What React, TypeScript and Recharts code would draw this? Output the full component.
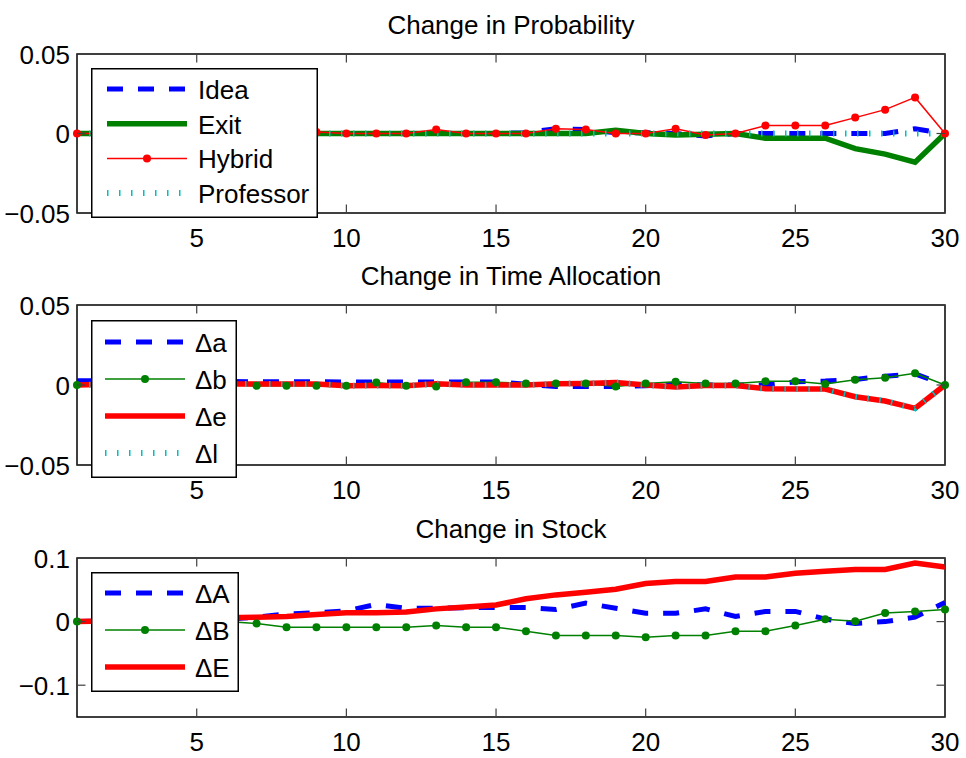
import { Legend, Line, LineChart, ReferenceArea, XAxis, YAxis } from 'recharts'

const steps = [1, 2, 3, 4, 5, 6, 7, 8, 9, 10, 11, 12, 13, 14, 15, 16, 17, 18, 19, 20, 21, 22, 23, 24, 25, 26, 27, 28, 29, 30]
const xTicks = [5, 10, 15, 20, 25, 30]

// Change in Probability
const idea = [0, 0, 0, 0, 0, 0, 0, 0, 0, 0, 0, 0, 0, 0, 0, 0.0005, 0.003, 0.0025, 0.0005, 0.0005, 0, -0.0015, 0, 0, 0, 0, 0, 0, 0.003, 0]
const exitP = [0, 0, 0, 0, 0, 0, 0, 0, 0, 0, 0, 0, 0, 0, 0, 0, 0, 0, 0.002, 0, -0.001, -0.0005, 0, -0.003, -0.003, -0.003, -0.0095, -0.013, -0.018, 0]
const hybrid = [0, 0, 0, 0, 0, 0, 0, 0, 0.001, 0, 0, 0, 0.0025, 0, 0, 0, 0.003, 0.0025, 0, 0, 0.003, -0.001, 0, 0.005, 0.005, 0.005, 0.01, 0.015, 0.0227, 0]
const professor = [0, 0, 0, 0, 0, 0, 0, 0, 0, 0, 0, 0, 0, 0, 0, 0, 0, 0, 0, 0, 0, 0, 0, 0, 0, 0, 0, 0, 0, 0]

// Change in Time Allocation
const da = [0.0027, 0.0025, 0.0025, 0.0025, 0.0025, 0.0022, 0.002, 0.002, 0.002, 0.0019, 0.0019, 0.0019, 0.0019, 0.0019, 0.0019, 0.0005, -0.001, -0.001, -0.001, -0.0005, 0.0005, 0, 0, 0, 0.002, 0.0025, 0.0035, 0.0055, 0.007, 0]
const db = [0, 0, 0, 0, 0, 0, -0.0005, -0.0005, -0.0005, -0.0005, 0.0015, -0.0005, -0.001, 0.0017, 0.0017, 0.001, 0.001, 0.001, -0.001, 0.001, 0.002, 0.001, 0.001, 0.0023, 0.0023, 0.0006, 0.0033, 0.0046, 0.0073, 0]
const de = [0, 0.0005, 0.0005, 0.0005, 0.0005, 0.0006, 0.0006, 0.0006, 0.0006, -0.0005, -0.0003, -0.0005, 0.0008, 0, 0, 0, 0.0008, 0.001, 0.0016, 0, -0.0012, -0.0003, -0.0003, -0.0023, -0.0025, -0.0025, -0.0073, -0.01, -0.0146, 0]
const dl = [0, 0.0005, 0.0005, 0.0005, 0.0005, 0.0006, 0.0006, 0.0006, 0.0006, -0.0005, -0.0003, -0.0005, 0.0008, 0, 0, 0, 0.0008, 0.001, 0.0016, 0, -0.0012, -0.0003, -0.0003, -0.0023, -0.0025, -0.0025, -0.0073, -0.01, -0.0146, 0]

// Change in Stock
const dA = [0, 0.001, 0.001, 0.002, 0.002, 0.004, 0.007, 0.012, 0.014, 0.017, 0.027, 0.021, 0.021, 0.022, 0.022, 0.022, 0.019, 0.029, 0.021, 0.013, 0.013, 0.02, 0.008, 0.016, 0.016, 0.004, -0.003, 0, 0.007, 0.03]
const dB = [0, 0, 0, 0, 0, 0, -0.003, -0.009, -0.009, -0.009, -0.009, -0.009, -0.006, -0.009, -0.009, -0.015, -0.022, -0.022, -0.022, -0.0245, -0.022, -0.022, -0.015, -0.015, -0.006, 0.0037, 0.0005, 0.0135, 0.016, 0.019]
const dE = [0, 0.001, 0.002, 0.003, 0.004, 0.006, 0.007, 0.008, 0.011, 0.014, 0.014, 0.015, 0.02, 0.023, 0.026, 0.036, 0.042, 0.046, 0.051, 0.06, 0.063, 0.063, 0.07, 0.07, 0.076, 0.079, 0.082, 0.082, 0.092, 0.086]

const smallTicks = [-0.05, 0, 0.05]
const smallTickLabels = ['\u22120.05', '0', '0.05']
const stockTicks = [-0.1, 0, 0.1]
const stockTickLabels = ['\u22120.1', '0', '0.1']

const rows = steps.map((step, i) => ({
  step, idea: idea[i], exitP: exitP[i], hybrid: hybrid[i], professor: professor[i],
  da: da[i], db: db[i], de: de[i], dl: dl[i], dA: dA[i], dB: dB[i], dE: dE[i],
}))

const BLUE = '#0000ff'
const GREEN = '#008000'
const RED = '#ff0000'
const CYAN = '#00bfbf'
const TICK = '#404040'
const FONT = 26
const PLOT_W = 868

interface Series { key: string; name: string; color: string; width: number; dash?: string; dot?: boolean }

const dashed = (key: string, name: string): Series => ({ key, name, color: BLUE, width: 5, dash: '16 15' })
const dotted = (key: string, name: string): Series => ({ key, name, color: CYAN, width: 6, dash: '1.5 10.5' })

const probSeries: Series[] = [
  dashed('idea', 'Idea'),
  { key: 'exitP', name: 'Exit', color: GREEN, width: 5.5 },
  { key: 'hybrid', name: 'Hybrid', color: RED, width: 1.5, dot: true },
  dotted('professor', 'Professor'),
]
const timeSeries: Series[] = [
  dashed('da', '\u0394a'),
  { key: 'db', name: '\u0394b', color: GREEN, width: 1.5, dot: true },
  { key: 'de', name: '\u0394e', color: RED, width: 5.5 },
  dotted('dl', '\u0394l'),
]
const stockSeries: Series[] = [
  dashed('dA', '\u0394A'),
  { key: 'dB', name: '\u0394B', color: GREEN, width: 1.5, dot: true },
  { key: 'dE', name: '\u0394E', color: RED, width: 5.5 },
]

function XTick({ x, y, payload, plotH }: any) {
  return <g>
    <line x1={x} y1={y} x2={x} y2={y - 8.5} stroke={TICK} strokeWidth={1.2} />
    <line x1={x} y1={y - plotH} x2={x} y2={y - plotH + 8.5} stroke={TICK} strokeWidth={1.2} />
    <text x={x} y={y + 34} textAnchor="middle" fontSize={FONT} fill="#000">{payload.value}</text>
  </g>
}

function YTick({ x, y, payload, ticks, labels }: any) {
  const label = labels[ticks.indexOf(payload.value)]
  return <g>
    <line x1={x} y1={y} x2={x + 8.5} y2={y} stroke={TICK} strokeWidth={1.2} />
    <line x1={x + PLOT_W} y1={y} x2={x + PLOT_W - 8.5} y2={y} stroke={TICK} strokeWidth={1.2} />
    <text x={x - 7} y={y + 9.5} textAnchor="end" fontSize={FONT} fill="#000">{label}</text>
  </g>
}

function LegendBox({ series, w, h, first, gap, lineX, textX }: { series: Series[]; w: number; h: number; first: number; gap: number; lineX: number; textX: number }) {
  return <svg width={w} height={h} style={{ display: 'block' }}>
    <rect x={0.75} y={0.75} width={w - 1.5} height={h - 1.5} fill="#fff" stroke="#000" strokeWidth={1.5} />
    {series.map((s, i) => {
      const cy = first + i * gap
      return <g key={s.key}>
        <line x1={lineX} x2={lineX + 80} y1={cy} y2={cy} stroke={s.color} strokeWidth={s.width} strokeDasharray={s.dash} />
        {s.dot && <circle cx={lineX + 40} cy={cy} r={4} fill={s.color} />}
        <text x={textX} y={cy + 10} fontSize={FONT} fill="#000">{s.name}</text>
      </g>
    })}
  </svg>
}

interface PanelProps {
  title: string; series: Series[]; height: number; top: number; axisH: number
  domain: [number, number]; ticks: number[]; labels: string[]
  legend: { w: number; h: number; first: number; gap: number; lineX: number; textX: number }
}

function Panel({ title, series, height, top, axisH, domain, ticks, labels, legend }: PanelProps) {
  const plotH = height - top - axisH
  return <LineChart width={966} height={height} data={rows} margin={{ top, right: 21, left: 0, bottom: 0 }}>
    <XAxis dataKey="step" type="number" domain={[1, 30]} ticks={xTicks} interval={0} height={axisH}
      axisLine={false} tickLine={false} tickSize={0} tickMargin={0} tick={<XTick plotH={plotH} />} />
    <YAxis type="number" domain={domain} ticks={ticks} interval={0} width={77}
      axisLine={false} tickLine={false} tickSize={0} tickMargin={0} tick={<YTick ticks={ticks} labels={labels} />} />
    <ReferenceArea x1={1} x2={30} y1={domain[0]} y2={domain[1]} fill="none" stroke="#000" strokeWidth={1.5}
      label={{ value: title, position: 'top', offset: 20, fill: '#000', fontSize: FONT }} />
    {series.map((s) => <Line key={s.key} type="linear" dataKey={s.key} name={s.name} stroke={s.color}
      strokeWidth={s.width} strokeDasharray={s.dash}
      dot={s.dot ? { r: 4, fill: s.color, stroke: s.color, strokeWidth: 0 } : false}
      activeDot={false} isAnimationActive={false} />)}
    <Legend layout="vertical" align="center" verticalAlign="middle"
      wrapperStyle={{ left: 91, top: 68, width: legend.w, height: legend.h }}
      content={() => <LegendBox series={series} {...legend} />} />
  </LineChart>
}

export default function App() {
  return <div style={{ position: 'absolute', left: 0, top: 0, width: 966, height: 758, background: '#fff', fontFamily: '"Liberation Sans", Arial, sans-serif' }}>
    <Panel title="Change in Probability" series={probSeries} height={252} top={54} axisH={39}
      domain={[-0.05, 0.05]} ticks={smallTicks} labels={smallTickLabels}
      legend={{ w: 227, h: 150, first: 21, gap: 34.7, lineX: 16, textX: 107 }} />
    <Panel title="Change in Time Allocation" series={timeSeries} height={252} top={53} axisH={39}
      domain={[-0.05, 0.05]} ticks={smallTicks} labels={smallTickLabels}
      legend={{ w: 146, h: 158, first: 22, gap: 37, lineX: 14, textX: 104 }} />
    <Panel title="Change in Stock" series={stockSeries} height={254} top={54} axisH={41}
      domain={[-0.15, 0.1]} ticks={stockTicks} labels={stockTickLabels}
      legend={{ w: 148, h: 120, first: 21, gap: 37, lineX: 14, textX: 104 }} />
  </div>
}
